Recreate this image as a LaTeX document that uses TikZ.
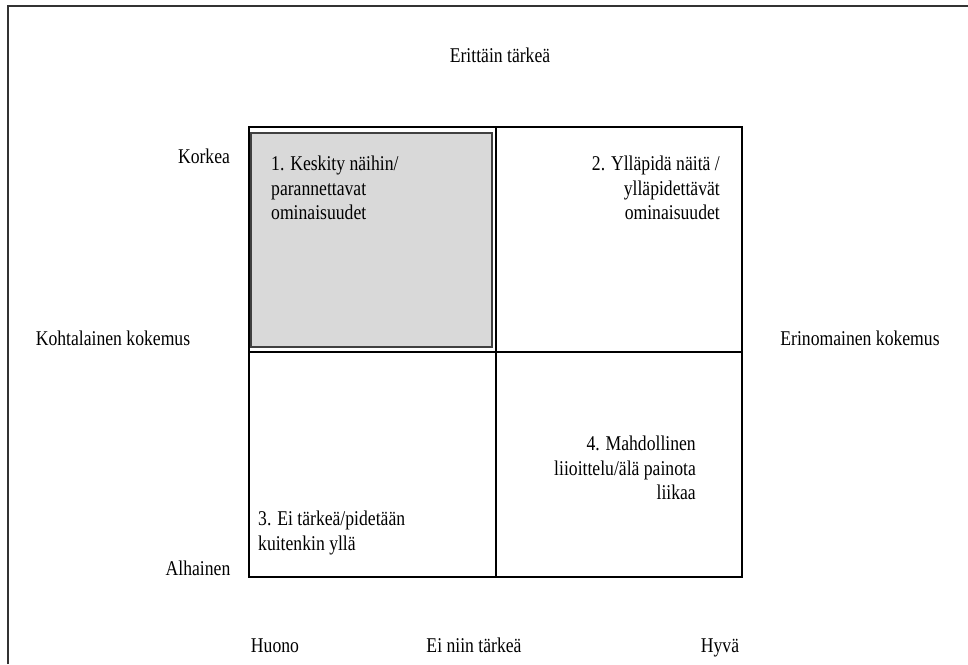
\documentclass[tikz,border=0pt]{standalone}
\usepackage{fontspec}
\setmainfont[FakeStretch=0.84]{Liberation Serif}
\begin{document}
\begin{tikzpicture}[x=1pt,y=-1pt,
  lbl/.style={inner sep=0pt, anchor=base, font=\fontsize{21}{24.5}\selectfont},
  quadtext/.style={inner sep=0pt, font=\fontsize{21}{24.5}\selectfont},
  gridline/.style={line width=1.3pt, draw=black},
  framebox/.style={line width=1.3pt, draw=black!80},
  focusbox/.style={fill=black!15, draw=black!75, line width=1.3pt}]
  \useasboundingbox (0,0) rectangle (968,664);
  % outer frame (open to the right and bottom)
  \draw[framebox] (8,664) -- (8,6) -- (968,6);

  % quadrant grid
  \coordinate (tl) at (249,127);
  \coordinate (br) at (742,577);
  \coordinate (mt) at (496,127);
  \coordinate (mb) at (496,577);
  \coordinate (ml) at (249,352);
  \coordinate (mr) at (742,352);

  % highlighted quadrant
  \path[focusbox] (251,133) rectangle (492,347);

  \draw[gridline] (tl) rectangle (br);
  \draw[gridline] (mt) -- (mb);
  \draw[gridline] (ml) -- (mr);

  % axis labels (placed on their baselines)
  \node[lbl] (top) at (500,62) {Erittäin tärkeä};
  \node[lbl] (korkea) at (204,163) {Korkea};
  \node[lbl] (kohtalainen) at (113,345) {Kohtalainen kokemus};
  \node[lbl] (erinomainen) at (860,345) {Erinomainen kokemus};
  \node[lbl] (alhainen) at (198,575) {Alhainen};
  \node[lbl] (huono) at (275,652) {Huono};
  \node[lbl] (einiin) at (474,652) {Ei niin tärkeä};
  \node[lbl] (hyva) at (720,652) {Hyvä};

  % quadrant texts
  \node[quadtext, align=left, anchor=west] (q1) at (271,188)
    {1. Keskity näihin/\\parannettavat\\ominaisuudet};
  \node[quadtext, align=right, anchor=east] (q2) at (720,188)
    {2. Ylläpidä näitä /\\ylläpidettävät\\ominaisuudet};
  \node[quadtext, align=left, anchor=west] (q3) at (258,533)
    {3. Ei tärkeä/pidetään\\kuitenkin yllä};
  \node[quadtext, align=right, anchor=east] (q4) at (696,468)
    {4. Mahdollinen\\liioittelu/älä painota\\liikaa};
\end{tikzpicture}
\end{document}
